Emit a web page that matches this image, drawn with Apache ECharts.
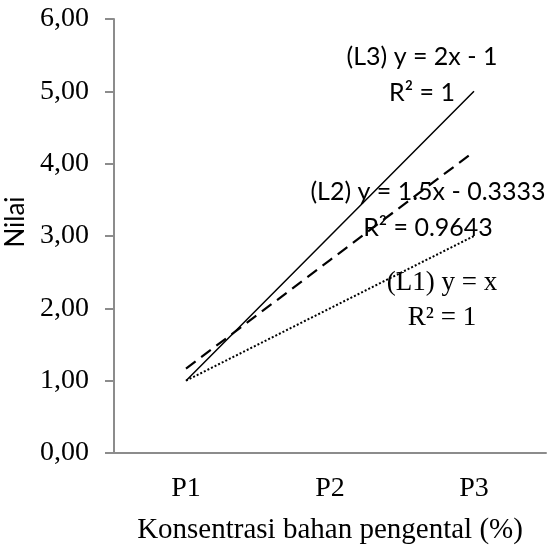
<!DOCTYPE html>
<html>
<head>
<meta charset="utf-8">
<script src="https://cdn.jsdelivr.net/npm/echarts@6/dist/echarts.min.js"></script>
<style>
  html, body { margin: 0; padding: 0; background: #fff; }
  #chart { width: 555px; height: 546px; }
</style>
</head>
<body>
<div id="chart"></div>
<script>
// Treatment categories on the x axis
const categories = ['P1', 'P2', 'P3'];

// Linear trendline values at each treatment
const trendL3 = [1.0, 3.0, 5.0];          // y = 2x - 1
const trendL2 = [1.1667, 2.6667, 4.1667]; // y = 1.5x - 0.3333
const trendL1 = [1.0, 2.0, 3.0];          // y = x

// Y axis range and tick labels
const yMin = 0, yMax = 6, yStep = 1;
const yTickLabels = ['0,00', '1,00', '2,00', '3,00', '4,00', '5,00', '6,00'];

// Equation annotations
const eqL3 = ['(L3) y = 2x - 1', 'R² = 1'];
const eqL2 = ['(L2) y = 1.5x - 0.3333', 'R² = 0.9643'];
const eqL1 = ['(L1) y = x', 'R² = 1'];

const serif = '"Liberation Serif", "Times New Roman", serif';
const sans = 'Lato, "Open Sans", sans-serif';

const chart = echarts.init(document.getElementById('chart'));

// Two centred lines of text: equation and R²
function eqText(lines, cx, cy1, cy2, font, size) {
  return lines.map((t, i) => ({
    type: 'text',
    x: cx, y: i === 0 ? cy1 : cy2,
    style: {
      text: t,
      font: size + 'px ' + font,
      fill: '#000',
      align: 'center',
      verticalAlign: 'middle'
    },
    z: 100
  }));
}

chart.setOption({
  animation: false,
  grid: { left: 114, right: 9, top: 19, bottom: 93, outerBoundsMode: 'none', containLabel: false },
  xAxis: {
    type: 'category',
    data: categories,
    boundaryGap: true,
    axisLine: { lineStyle: { color: '#8c8c8c', width: 2 } },
    axisTick: { show: false },
    axisLabel: { margin: 22, fontFamily: serif, fontSize: 28, color: '#000' },
    name: 'Konsentrasi bahan pengental (%)',
    nameLocation: 'middle',
    nameGap: 63,
    nameTextStyle: { fontFamily: serif, fontSize: 29, color: '#000' }
  },
  yAxis: {
    type: 'value',
    min: yMin, max: yMax, interval: yStep,
    splitLine: { show: false },
    axisLine: { show: true, lineStyle: { color: '#8c8c8c', width: 2 } },
    axisTick: { show: true, inside: false, length: 9, lineStyle: { color: '#8c8c8c', width: 2 } },
    axisLabel: {
      margin: 25,
      fontFamily: serif, fontSize: 28, color: '#000',
      formatter: v => yTickLabels[Math.round((v - yMin) / yStep)]
    },
    name: 'Nilai',
    nameLocation: 'middle',
    nameGap: 80,
    nameRotate: 90,
    nameTextStyle: { fontFamily: sans, fontSize: 26, color: '#000', padding: [0, 0, 0, 28] }
  },
  series: [
    {
      name: 'L3', type: 'line', data: trendL3,
      symbol: 'none',
      lineStyle: { color: '#000', width: 1.5, type: 'solid' }
    },
    {
      name: 'L2', type: 'line', data: trendL2,
      symbol: 'none',
      lineStyle: { color: '#000', width: 2.2, type: [12, 7] }
    },
    {
      name: 'L1', type: 'line', data: trendL1,
      symbol: 'none',
      lineStyle: { color: '#000', width: 2, type: [2, 2] }
    }
  ],
  graphic: [].concat(
    eqText(eqL3, 422, 57, 93, sans, 25),
    eqText(eqL2, 428, 192, 228, sans, 25),
    eqText(eqL1, 442, 283, 318, serif, 27)
  )
});
</script>
</body>
</html>
